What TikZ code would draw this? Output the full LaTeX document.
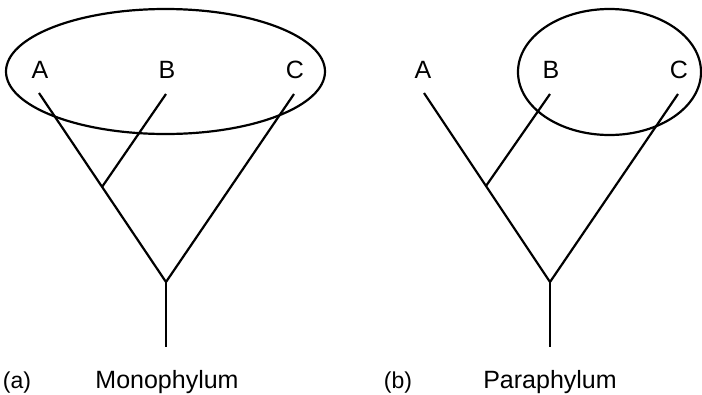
\documentclass[tikz,border=0pt]{standalone}
\usepackage{fontspec}
\setmainfont{Liberation Sans}
\begin{document}
\begin{tikzpicture}[x=1pt,y=-1pt,
  branch/.style={line width=2.2pt},
  ring/.style={line width=2.2pt},
  taxon/.style={font=\fontsize{25}{25}\selectfont, anchor=base, inner sep=0pt},
  caption/.style={font=\fontsize{25}{25}\selectfont, anchor=base, inner sep=0pt},
  panel/.style={font=\fontsize{23}{23}\selectfont, anchor=base, inner sep=0pt}]
\useasboundingbox (0,0) rectangle (702,394);
% ---------- (a) ----------
\node[taxon] (la) at (40,78) {A};
\node[taxon] (lb) at (167,78) {B};
\node[taxon] (lc) at (295,78) {C};
\coordinate (ta) at (39,93);
\coordinate (tb) at (166,94);
\coordinate (tc) at (294,94);
\coordinate (ja) at (102,187);
\coordinate (ra) at (166,282);
\coordinate (ba) at (166,347);
\draw[branch] (ta) -- (ra) -- (tc);
\draw[branch] (tb) -- (ja);
\draw[branch] (ra) -- (ba);
\draw[ring] (165.5,71.5) ellipse [x radius=159.5, y radius=62.5];
\node[panel] (pa) at (17,388) {(a)};
\node[caption] (ca) at (167,388) {Monophylum};
% ---------- (b) ----------
\node[taxon] (lA) at (423,78) {A};
\node[taxon] (lB) at (551,78) {B};
\node[taxon] (lC) at (679,78) {C};
\coordinate (tA) at (424,93);
\coordinate (tB) at (550,94);
\coordinate (tC) at (678,94);
\coordinate (jb) at (486,186);
\coordinate (rb) at (550,282);
\coordinate (bb) at (550,347);
\draw[branch] (tA) -- (rb) -- (tC);
\draw[branch] (tB) -- (jb);
\draw[branch] (rb) -- (bb);
\draw[ring] (609.5,72) ellipse [x radius=91.5, y radius=63];
\node[panel] (pb) at (398,388) {(b)};
\node[caption] (cb) at (550,388) {Paraphylum};
\end{tikzpicture}
\end{document}
